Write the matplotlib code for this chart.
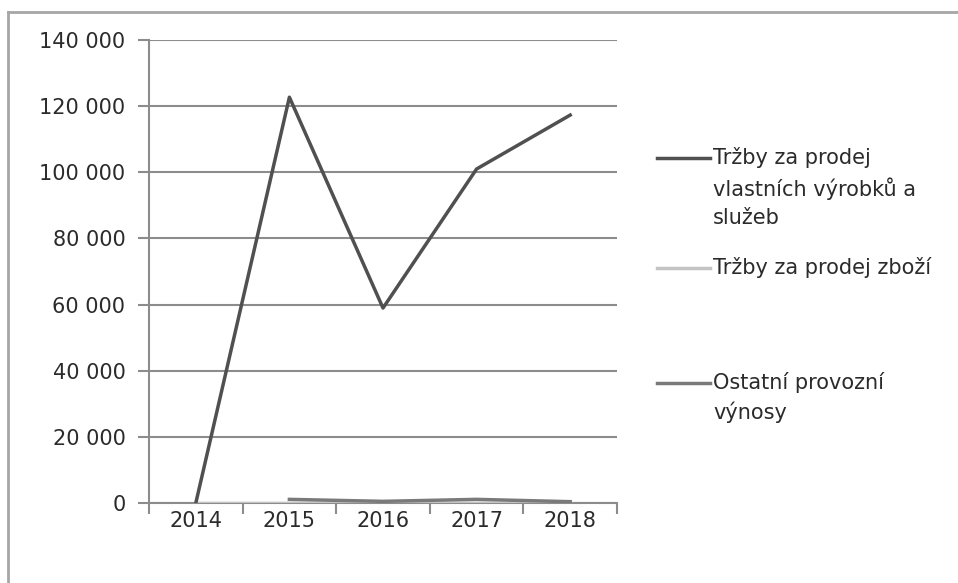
import numpy as np
import matplotlib.pyplot as plt
from matplotlib.lines import Line2D

plt.rcParams['font.family'] = ['DejaVu Sans']

years = ['2014', '2015', '2016', '2017', '2018']
vlastni = [0, 122700, 58950, 101000, 117300]
zbozi = [0, 0, 0, 0, 0]
ostatni = [np.nan, 1100, 500, 1100, 400]

labels = ['Tržby za prodej\nvlastních výrobků a\nslužeb',
          'Tržby za prodej zboží',
          'Ostatní provozní\nvýnosy']
colors = ['#505050', '#c4c4c4', '#7a7a7a']
txt = '#2b2b2b'
fs = 15

fig = plt.figure(figsize=(9.58, 5.83), dpi=100)
ax = fig.add_axes([149/958, 1-503/583, 468/958, 463/583])

x = np.arange(len(years))
ax.plot(x, zbozi, color=colors[1], lw=2.5, zorder=3)
ax.plot(x, ostatni, color=colors[2], lw=2.5, zorder=4)
ax.plot(x, vlastni, color=colors[0], lw=2.5, zorder=5)

ax.set_xlim(-0.5, 4.5)
ax.set_ylim(0, 140000)
yt = np.arange(0, 140001, 20000)
ax.set_yticks(yt)
ax.set_yticklabels([f'{v:,}'.replace(',', ' ') for v in yt])
ax.set_xticks(x)
ax.set_xticklabels(years)
ax.set_xticks(np.arange(-0.5, 5, 1), minor=True)

ax.grid(axis='y', color='#8c8c8c', lw=1.5)
ax.set_axisbelow(True)
for s in ['top', 'right']:
    ax.spines[s].set_visible(False)
for s in ['left', 'bottom']:
    ax.spines[s].set_color('#8c8c8c')
    ax.spines[s].set_linewidth(1.5)
    ax.spines[s].set_zorder(2)

ax.tick_params(axis='y', length=8, width=1.5, color='#8c8c8c', pad=9,
               labelsize=fs, labelcolor=txt)
ax.tick_params(axis='x', which='major', length=0, pad=6,
               labelsize=fs, labelcolor=txt)
ax.tick_params(axis='x', which='minor', length=8, width=1.5, color='#8c8c8c')

# legend drawn by hand to keep the wrapped labels aligned
rows = [158, 268, 383]
for lab, c, yp in zip(labels, colors, rows):
    yf = 1 - yp/583
    fig.add_artist(Line2D([657/958, 710/958], [yf, yf], color=c, lw=2.5,
                          transform=fig.transFigure))
    fig.text(713/958, 1 - (yp - 11)/583, lab, ha='left', va='top',
             fontsize=fs, color=txt, linespacing=1.5,
             transform=fig.transFigure)

# outer chart frame
fig.add_artist(Line2D([8/958, 1], [1-12/583, 1-12/583], color='#a6a6a6', lw=2,
                      transform=fig.transFigure))
fig.add_artist(Line2D([8/958, 8/958], [0, 1-12/583], color='#a6a6a6', lw=2,
                      transform=fig.transFigure))

fig.savefig('out.png', dpi=100)
